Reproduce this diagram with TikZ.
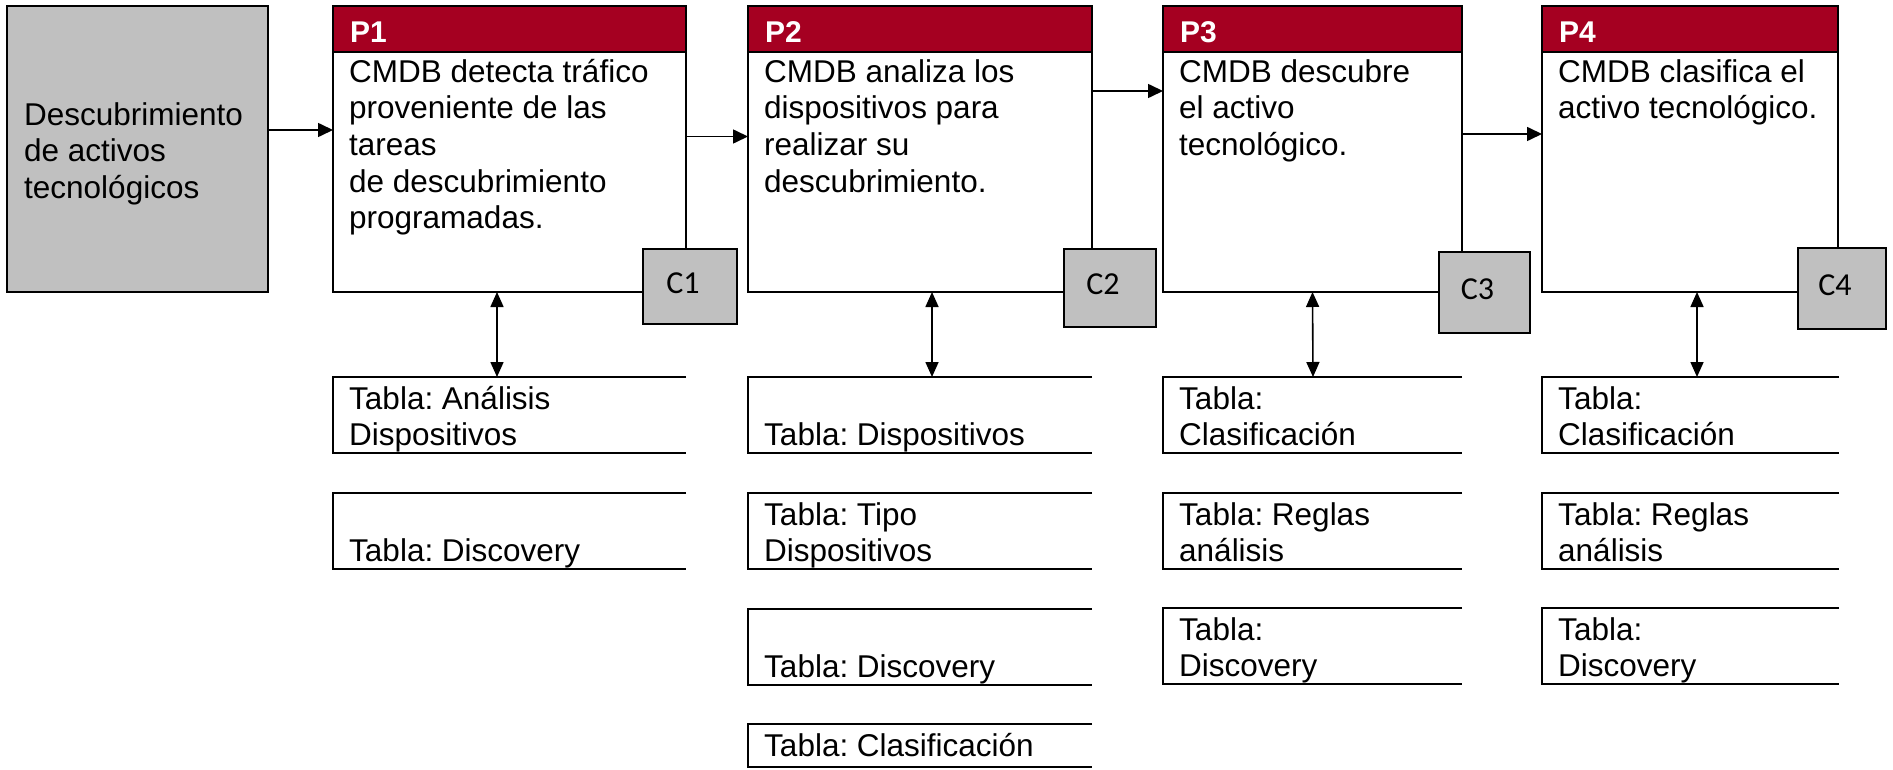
\documentclass[tikz,border=0pt]{standalone}
\usepackage{fontspec}
\setmainfont{Liberation Sans}
\newfontfamily\calibri{Carlito}
\usetikzlibrary{arrows.meta}
\definecolor{rojo}{RGB}{165,0,33}
\definecolor{gris}{RGB}{192,192,192}
\frenchspacing
\tikzset{
	borde/.style={line width=2.7pt},
	caja/.style={draw, line width=2.7pt, fill=white, anchor=north west, outer sep=0pt, inner sep=0pt},
	cabecera/.style={draw, line width=2.7pt, fill=rojo, anchor=north west, outer sep=0pt, inner sep=0pt, minimum height=46pt},
	titulo/.style={anchor=base west, inner sep=0pt, text=white, font=\fontsize{30}{36}\selectfont\bfseries},
	cuerpo/.style={anchor=north west, inner sep=0pt, align=left, font=\fontsize{31.5}{36.7}\selectfont},
	tabtxt/.style={anchor=north west, inner sep=0pt, align=left, font=\fontsize{31.5}{36.5}\selectfont},
	control/.style={draw, line width=2.7pt, fill=gris, outer sep=0pt, inner sep=0pt, text depth=7pt, execute at end node={\hspace{14pt}}, font=\calibri\fontsize{32}{38}\selectfont},
	entrada/.style={draw, line width=2.7pt, fill=gris, anchor=north west, outer sep=0pt, inner sep=0pt},
	flecha/.style={line width=1.6pt, -{Triangle[length=15pt,width=14pt]}},
	doble/.style={line width=1.6pt, {Triangle[length=15pt,width=13pt]}-{Triangle[length=15pt,width=13pt]}}
}
% proceso: [nombre](x,y)(ancho:alto){titulo}{texto}
\def\proceso[#1](#2,#3)(#4:#5)#6#7{%
	\node[caja, minimum width=#4pt, minimum height=#5pt] (#1) at (#2,#3) {};
	\node[cabecera, minimum width=#4pt] (#1h) at (#1.north west) {};
	\node[titulo] (#1t) at ([shift={(17,37)}]#1.north west) {#6};
	\node[cuerpo] (#1c) at ([shift={(16,50.3)}]#1.north west) {\strut#7};}
% tabla abierta a la derecha: [nombre](x,y)(ancho:alto){texto}
\def\tabla[#1](#2,#3)(#4:#5)#6{%
	\coordinate (#1) at (#2,#3);
	\draw[borde] ([shift={(#4,0)}]#1) -- (#1) -- ([shift={(0,#5)}]#1) -- ([shift={(#4,#5)}]#1);
	\node[tabtxt] (#1t) at ([shift={(16,6.5)}]#1) {\strut#6};}

\begin{document}
\begin{tikzpicture}[x=1pt, y=-1pt]
			%%%%% START %%%%%
			\useasboundingbox (0,0) rectangle (1893,770);
			
			\node[entrada, minimum width=261pt, minimum height=286pt] (desc) at (7,6) {};
			\node[tabtxt] (desct) at ([shift={(17,93.5)}]desc.north west) {\strut Descubrimiento\\de activos\\tecnológicos};
			
			\proceso[p1](333,6)(353:286){P1}{CMDB detecta tráfico\\proveniente de las\\tareas\\de descubrimiento\\programadas.}
			\proceso[p2](748,6)(344:286){P2}{CMDB analiza los\\dispositivos para\\realizar su\\descubrimiento.}
			\proceso[p3](1163,6)(299:286){P3}{CMDB descubre\\el activo\\tecnológico.}
			\proceso[p4](1542,6)(296:286){P4}{CMDB clasifica el\\activo tecnológico.}
			
			\node[control, minimum width=94pt, minimum height=75pt] (c1) at (690,286.5) {C1};
			\node[control, minimum width=92pt, minimum height=78pt] (c2) at (1110,288) {C2};
			\node[control, minimum width=91pt, minimum height=81pt] (c3) at (1484.5,292.5) {C3};
			\node[control, minimum width=88pt, minimum height=81pt] (c4) at (1842,288.5) {C4};
			
			\draw[flecha] ([yshift=19pt]desc.east) -- ([yshift=19pt]p1.west);
			\draw[flecha] ([yshift=12.5pt]p1.east) -- ([yshift=12.5pt]p2.west);
			\draw[flecha] ([yshift=58pt]p2.east) -- ([yshift=58pt]p3.west);
			\draw[flecha] ([yshift=15pt]p3.east) -- ([yshift=15pt]p4.west);
			
			% tablas P1
			\tabla[t11](333,377)(353:76){Tabla: Análisis\\Dispositivos}
			\tabla[t12](333,493)(353:76){\\Tabla: Discovery}
			
			% tablas P2
			\tabla[t21](748,377)(344:76){\\Tabla: Dispositivos}
			\tabla[t22](748,493)(344:76){Tabla: Tipo\\Dispositivos}
			\tabla[t23](748,609)(344:76){\\Tabla: Discovery}
			\tabla[t24](748,724)(344:43){Tabla: Clasificación}
			
			% tablas P3
			\tabla[t31](1163,377)(299:76){Tabla:\\Clasificación}
			\tabla[t32](1163,493)(299:76){Tabla: Reglas\\análisis}
			\tabla[t33](1163,608)(299:76){Tabla:\\Discovery}
			
			% tablas P4
			\tabla[t41](1542,377)(297:76){Tabla:\\Clasificación}
			\tabla[t42](1542,493)(297:76){Tabla: Reglas\\análisis}
			\tabla[t43](1542,608)(297:76){Tabla:\\Discovery}
			
			\draw[doble] ([xshift=-12.5pt]p1.south) -- ([xshift=164pt]t11);
			\draw[doble] ([xshift=12pt]p2.south) -- ([xshift=184pt]t21);
			\draw[doble] (p3.south) -- ([xshift=150pt]t31);
			\draw[doble] ([xshift=7pt]p4.south) -- ([xshift=155pt]t41);
			
			%%%%% END %%%%%
\end{tikzpicture}
\end{document}
